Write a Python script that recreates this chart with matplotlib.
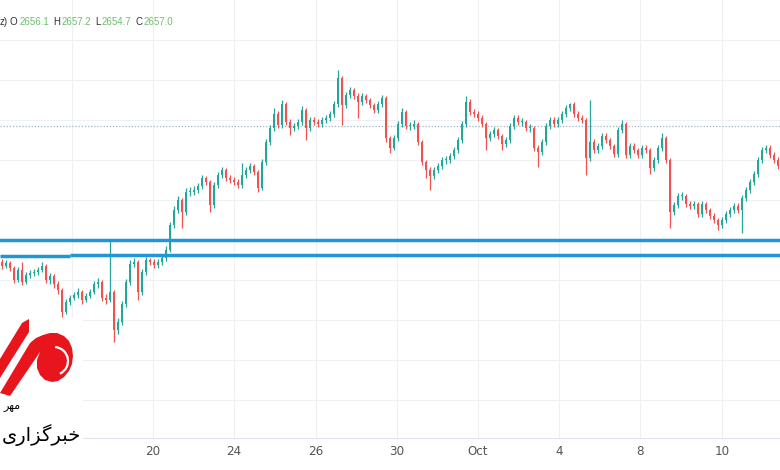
import matplotlib
matplotlib.use('Agg')
import matplotlib.pyplot as plt
from matplotlib.patches import Polygon, Rectangle, Arc

# gold, candles (one candle per slot)
first_open = 2589
closes = [2587, 2588.5, 2586, 2580, 2585, 2579, 2582.5, 2583.5, 2584, 2585,
          2587, 2580, 2582, 2578, 2575, 2564, 2569, 2571, 2572.5, 2574,
          2570, 2572, 2574, 2578, 2579, 2571, 2570, 2574, 2555, 2559,
          2568, 2579, 2588, 2589, 2574, 2584, 2590, 2589, 2587.5, 2589,
          2591, 2595, 2607.5, 2615, 2620, 2614, 2624, 2624, 2625, 2627,
          2631, 2629, 2617.5, 2627.5, 2632.5, 2635, 2631, 2630, 2629, 2627.5,
          2632.5, 2635, 2637, 2634, 2626, 2639, 2649, 2656, 2663, 2657.5,
          2668, 2659, 2656, 2657, 2659, 2665, 2656, 2660, 2659, 2658,
          2660, 2661, 2663, 2668, 2681, 2667.5, 2672.5, 2675, 2672, 2669,
          2672, 2670, 2667.5, 2665, 2668, 2671, 2651, 2646, 2651, 2658,
          2664, 2657, 2657, 2658, 2649, 2639, 2635, 2632, 2635, 2637,
          2640, 2640, 2642, 2645, 2650, 2658, 2669, 2664, 2663, 2661,
          2658, 2651, 2653, 2655, 2652, 2648, 2650, 2657, 2661, 2659,
          2659, 2656, 2656, 2646, 2644, 2649, 2657, 2660, 2658, 2660,
          2663, 2666, 2668, 2663, 2661, 2660, 2641, 2649, 2645, 2647,
          2652, 2650, 2647, 2643, 2655, 2658, 2642.5, 2647, 2645, 2642.5,
          2646, 2645, 2636, 2640, 2646, 2651, 2640, 2614, 2617.5, 2622,
          2622, 2618, 2617, 2618, 2613, 2618, 2615, 2612, 2610, 2607.5,
          2610, 2613, 2615, 2617, 2615, 2621, 2625, 2629, 2633, 2640,
          2645, 2646, 2642.5, 2640, 2637]
highs = [2590.5, 2590, 2589.5, 2587, 2586.5, 2589, 2584, 2585, 2585.5, 2586.5,
         2589, 2588, 2583.5, 2583, 2579.5, 2576, 2570.5, 2572.5, 2574, 2576,
         2575, 2573.5, 2575.5, 2579.5, 2581, 2580, 2573, 2600, 2575, 2561,
         2569.5, 2580.5, 2590, 2591, 2590, 2585.5, 2591.5, 2591, 2590.5, 2590.5,
         2592.5, 2597, 2609, 2617, 2622, 2621, 2626, 2626.5, 2627, 2628.5,
         2632.5, 2632, 2630, 2629, 2634, 2636.5, 2636, 2632.5, 2631.5, 2630.5,
         2638.5, 2636.5, 2638.5, 2638, 2635, 2640.5, 2650.5, 2657.5, 2666, 2664.5,
         2670, 2669, 2660.5, 2658.5, 2660.5, 2667, 2666, 2661.5, 2661.5, 2660.5,
         2661.5, 2662.5, 2664.5, 2669.5, 2685, 2682, 2674, 2676.5, 2676, 2673.5,
         2673.5, 2673, 2671, 2668.5, 2669.5, 2672.5, 2672, 2652, 2652.5, 2659.5,
         2666, 2665, 2659, 2660, 2659, 2650, 2640, 2636.5, 2636.5, 2638.5,
         2641.5, 2642, 2643.5, 2646.5, 2651.5, 2659.5, 2672, 2670.5, 2665.5, 2664.5,
         2662.5, 2659, 2654.5, 2656.5, 2656, 2653, 2651.5, 2658.5, 2662.5, 2662.5,
         2661, 2660, 2658, 2657, 2647.5, 2650.5, 2658.5, 2661.5, 2661.5, 2661.5,
         2664.5, 2667.5, 2668.5, 2669, 2664.5, 2662.5, 2661, 2670, 2650.5, 2648.5,
         2653.5, 2653.5, 2651, 2648, 2656.5, 2660, 2659, 2648.5, 2648.5, 2646,
         2647.5, 2647.5, 2646, 2641.5, 2647.5, 2653.5, 2652, 2641, 2619, 2623.5,
         2624, 2623, 2619.5, 2619.5, 2619, 2619.5, 2619, 2616, 2613.5, 2611,
         2611.5, 2614.5, 2616.5, 2618.5, 2618.5, 2622.5, 2626.5, 2630.5, 2634.5, 2641.5,
         2646.5, 2647.5, 2647.5, 2644, 2641.5]
lows = [2585.5, 2586, 2584.5, 2578.5, 2579, 2577.5, 2578, 2581, 2582, 2582.5,
        2584, 2578.5, 2578, 2576, 2573, 2561.5, 2563, 2567.5, 2570, 2571,
        2568, 2569, 2571, 2573, 2576, 2569.5, 2568, 2569, 2549, 2553,
        2557.5, 2566.5, 2577.5, 2586.5, 2570, 2572.5, 2582.5, 2587.5, 2586, 2586,
        2587.5, 2589.5, 2594, 2606, 2613.5, 2606, 2612.5, 2622, 2622.5, 2623.5,
        2625.5, 2627.5, 2614, 2616, 2626, 2631, 2629.5, 2628.5, 2627.5, 2626,
        2626, 2631, 2633.5, 2632.5, 2624, 2625, 2637.5, 2647.5, 2654.5, 2656,
        2656, 2657.5, 2652.5, 2654.5, 2655.5, 2657.5, 2650, 2654.5, 2657.5, 2656.5,
        2656.5, 2658.5, 2659.5, 2661.5, 2666.5, 2657.5, 2666, 2671, 2670.5, 2661,
        2667.5, 2668.5, 2666, 2663.5, 2663.5, 2666.5, 2649, 2643.5, 2645, 2649.5,
        2656.5, 2655.5, 2655, 2655.5, 2647.5, 2637.5, 2631, 2625, 2630.5, 2633.5,
        2635.5, 2638, 2638.5, 2640.5, 2643.5, 2648.5, 2656.5, 2662.5, 2661.5, 2659.5,
        2656.5, 2645, 2649.5, 2651.5, 2650.5, 2645, 2646.5, 2648.5, 2655.5, 2657.5,
        2657, 2654.5, 2654, 2644.5, 2636.5, 2642.5, 2647.5, 2655.5, 2656.5, 2656.5,
        2658.5, 2661.5, 2664.5, 2661.5, 2659.5, 2658.5, 2632.5, 2639.5, 2643.5, 2643.5,
        2645.5, 2648.5, 2645.5, 2641.5, 2641.5, 2653.5, 2641, 2641, 2643.5, 2641,
        2641, 2643.5, 2633, 2634.5, 2638.5, 2644.5, 2638.5, 2606, 2612.5, 2616,
        2620, 2616.5, 2615.5, 2615.5, 2611.5, 2611.5, 2613.5, 2610.5, 2608.5, 2605,
        2606, 2608.5, 2611.5, 2613.5, 2613.5, 2603.5, 2619.5, 2623.5, 2627.5, 2631.5,
        2638.5, 2643.5, 2641, 2638.5, 2635.5]

tick_pos = [17.5, 37.75, 58, 78.5, 98.75, 119, 139.25, 159.5, 180]
tick_labels = ['', '20', '24', '26', '30', 'Oct', '4', '8', '10']

header_labels = ['O', 'H', 'L', 'C']
header_values = [2656.1, 2657.2, 2654.7, 2657.0]
last_price = header_values[3]
zone_levels = [2600.0, 2592.3]

UP = '#26a69a'
DOWN = '#ef5350'
ZONE = '#1f97d4'

opens = [first_open] + closes[:-1]
xs = list(range(len(closes)))
colors = [UP if c >= o else DOWN for o, c in zip(opens, closes)]
bottoms = [min(o, c) for o, c in zip(opens, closes)]
heights = [max(abs(c - o), 0.4) for o, c in zip(opens, closes)]

fig = plt.figure(figsize=(7.8, 4.7), dpi=100)
fig.patch.set_facecolor('white')
ax = fig.add_axes([0, 32 / 470, 1, 438 / 470])

ax.set_xlim(-0.5, len(closes) - 0.5)
ax.set_ylim(2501, 2720)

# grid
for p in range(2520, 2720, 20):
    ax.axhline(p, color='#eef0f4', lw=0.8, zorder=0)
for t in tick_pos:
    ax.axvline(t, color='#eef0f4', lw=0.8, zorder=0)

ax.vlines(xs, lows, highs, colors=colors, lw=0.9, zorder=2)
ax.bar(xs, heights, bottom=bottoms, width=0.66, color=colors, linewidth=0, zorder=3)

# live price line
ax.axhline(last_price, color='#9fb6c4', lw=0.9, ls=(0, (1, 1.5)), zorder=1)

# drawn support zone
ax.axhline(zone_levels[0], color=ZONE, lw=2.5, zorder=4)
ax.hlines(zone_levels[1] - 0.5, -0.5, 17, color=ZONE, lw=2.5, zorder=4)
ax.hlines(zone_levels[1], 17, len(closes) - 0.5, color=ZONE, lw=2.5, zorder=4)

for s in ['top', 'left', 'right']:
    ax.spines[s].set_visible(False)
ax.spines['bottom'].set_color('#e0e3eb')
ax.spines['bottom'].set_linewidth(0.8)
ax.set_yticks([])
ax.set_xticks(tick_pos)
ax.set_xticklabels(tick_labels, color='#555555', fontsize=9.5,
                   family='DejaVu Sans', fontstretch='condensed')
ax.tick_params(axis='x', length=0, pad=5)

# OHLC header
hx = [0, 10, 19.5, 53, 61.5, 95, 102, 135, 143.5]
fig.text(hx[0] / 780, 1 - 22 / 470, 'z)', color='#333333', fontsize=7,
         family='Liberation Sans', va='center')
for k in range(4):
    fig.text(hx[1 + 2 * k] / 780, 1 - 22 / 470, header_labels[k], color='#333333',
             fontsize=7, family='Liberation Sans', va='center')
    fig.text(hx[2 + 2 * k] / 780, 1 - 22 / 470, '%.1f' % header_values[k],
             color='#6cbf6c', fontsize=7, family='Liberation Sans', va='center')

# agency logo, pixel coordinates
lg = fig.add_axes([0, 0, 1, 1])
lg.set_xlim(0, 780)
lg.set_ylim(470, 0)
lg.axis('off')
lg.patch.set_alpha(0)
RED = '#e8161c'
lg.add_patch(Rectangle((0, 318), 83, 152, color='white', lw=0))
lg.add_patch(Polygon([(22, 323), (29, 319), (29, 332), (0, 378), (0, 359)],
                     color=RED, lw=0))
lg.add_patch(Polygon([(0, 393), (10, 396), (40, 352), (38, 345), (30, 343)],
                     color=RED, lw=0))
lg.add_patch(Polygon([(30, 343), (36, 338), (43, 335), (50, 333), (57, 333), (64, 336),
                      (69, 341), (72, 348), (73, 356), (72, 364), (69, 371), (64, 377),
                      (58, 381), (52, 382), (45, 380), (40, 375), (37, 368), (37, 360),
                      (40, 352)], color=RED, lw=0))
lg.add_patch(Arc((54, 361), 28, 28, theta1=-85, theta2=65, color='white', lw=1.6))

# "خبرگزاری مهر" in presentation forms, visual order
lg.text(2, 441, '\uFBFC\uFEAD\uFE8D\uFEB0\uFB94\uFEAE\uFE92\uFEA7', color='black',
        fontsize=14, family='DejaVu Sans', ha='left', va='baseline')
lg.text(3, 409, '\uFEAE\uFEEC\uFEE3', color='black', fontsize=8,
        family='DejaVu Sans', ha='left', va='baseline')

fig.savefig('out.png', dpi=100)
